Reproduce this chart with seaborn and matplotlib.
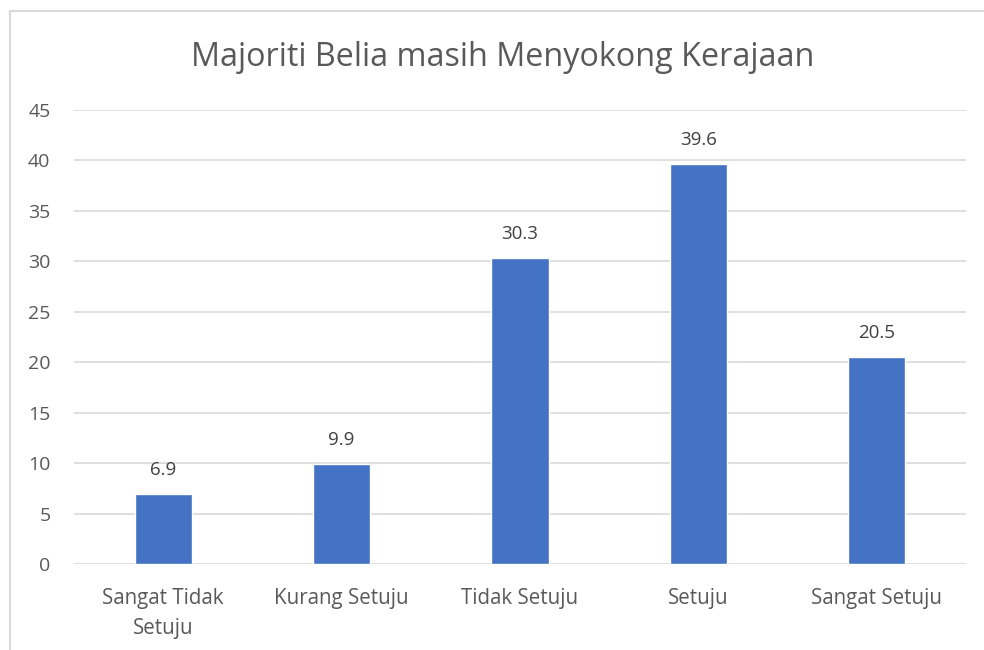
import matplotlib
matplotlib.use("Agg")
import matplotlib.pyplot as plt
import seaborn as sns
import pandas as pd
from matplotlib.lines import Line2D

categories = ["Sangat Tidak\nSetuju", "Kurang Setuju", "Tidak Setuju", "Setuju", "Sangat Setuju"]
values = [6.9, 9.9, 30.3, 39.6, 20.5]
yticks = [0, 5, 10, 15, 20, 25, 30, 35, 40, 45]

sns.set_style("white")
plt.rcParams["font.family"] = ["Open Sans", "DejaVu Sans"]

df = pd.DataFrame({"kategori": categories, "nilai": values})

fig = plt.figure(figsize=(9.84, 6.5), dpi=100)
ax = fig.add_axes([0.0752, 0.1323, 0.9065, 0.6985])

sns.barplot(data=df, x="kategori", y="nilai", color="#4472C4", width=0.32,
            saturation=1, ax=ax, zorder=3)

ax.set_ylim(0, 45)
ax.set_yticks(yticks)
ax.set_xlim(-0.5, len(categories) - 0.5)
ax.yaxis.grid(True, color="#d9d9d9", linewidth=1.2, zorder=0)
ax.set_axisbelow(True)
for s in ax.spines.values():
    s.set_visible(False)
ax.tick_params(axis="both", length=0, labelsize=14, colors="#595959")
ax.tick_params(axis="x", pad=17, labelsize=14.8)
ax.tick_params(axis="y", pad=17)
for lbl in ax.get_xticklabels():
    lbl.set_linespacing(1.6)
ax.set_xlabel("")
ax.set_ylabel("")

for i, v in enumerate(values):
    ax.annotate(f"{v}", (i, v), xytext=(0, 11), textcoords="offset points",
                ha="center", va="bottom", fontsize=13.5, color="#404040")

fig.text(0.511, 0.912, "Majoriti Belia masih Menyokong Kerajaan", ha="center",
         va="center", fontsize=23.3, color="#595959")

# chart border (left and top edges visible)
fig.add_artist(Line2D([0.0102, 0.0102], [0, 0.983], color="#d9d9d9", linewidth=1.5))
fig.add_artist(Line2D([0.0102, 1.0], [0.983, 0.983], color="#d9d9d9", linewidth=1.5))

fig.savefig("out.png", dpi=100)
